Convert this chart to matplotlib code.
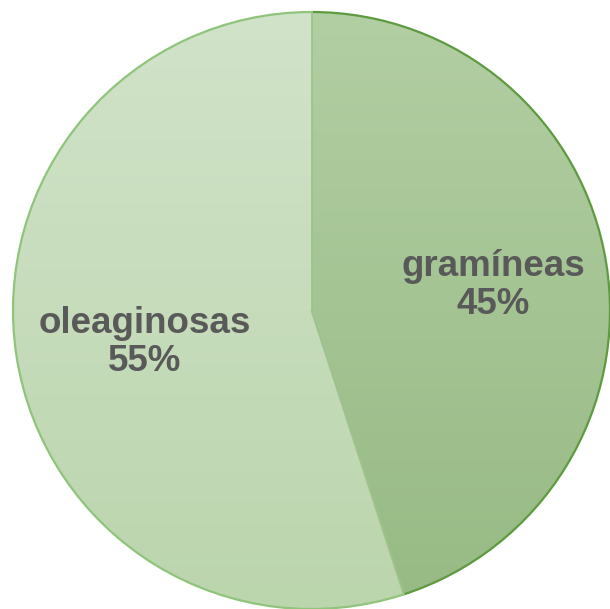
import numpy as np
import matplotlib
matplotlib.use("Agg")
import matplotlib.pyplot as plt
from matplotlib.colors import LinearSegmentedColormap
from matplotlib.patches import Arc

labels = ["gramíneas", "oleaginosas"]
values = [45, 55]
top_colors = ["#b2cea3", "#d1e3c9"]
bottom_colors = ["#97ba84", "#bbd5ad"]
edge_colors = ["#5e9a40", "#90c47c"]

W, H = 610, 609
cx, cy, R = 311.5, 310.5, 298.5

fig = plt.figure(figsize=(W / 100, H / 100), dpi=100)
ax = fig.add_axes([0, 0, 1, 1])

wedges, _ = ax.pie(values, startangle=90, counterclock=False, radius=1,
                   center=(0, 0), frame=False,
                   wedgeprops=dict(linewidth=0))
ax.axis("off")

grad = np.linspace(1, 0, 256).reshape(-1, 1)
for w, tc, bc in zip(wedges, top_colors, bottom_colors):
    w.set_facecolor("none")
    cmap = LinearSegmentedColormap.from_list("g", [bc, tc])
    im = ax.imshow(grad, cmap=cmap, extent=(-1, 1, -1, 1), aspect="auto",
                   origin="upper", zorder=1)
    im.set_clip_path(w)
    w.set_zorder(2)

ax.set_xlim(-cx / R, (W - cx) / R)
ax.set_ylim(-(H - cy) / R, cy / R)
ax.set_aspect("auto")

# outer arcs
theta1 = 90
for v, ec in zip(values, edge_colors):
    t2 = theta1
    t1 = theta1 - v * 3.6
    ax.add_patch(Arc((0, 0), 2, 2, theta1=t1, theta2=t2, color=ec, lw=1.6, zorder=3))
    theta1 = t1

# slice dividers
for ang in [90, 90 - values[0] * 3.6]:
    a = np.deg2rad(ang)
    ax.plot([0, np.cos(a)], [0, np.sin(a)], color="#9cc48a", lw=1.3, zorder=3)

pos = [(0.608, 0.083), (-0.558, -0.108)]
for (x, y), lab, v in zip(pos, labels, values):
    ax.text(x, y, f"{lab}\n{v}%", ha="center", va="center", fontsize=26.5,
            fontweight="bold", color="#595959", family="Liberation Sans",
            linespacing=1.13, zorder=4)

fig.savefig("out.png", dpi=100)
